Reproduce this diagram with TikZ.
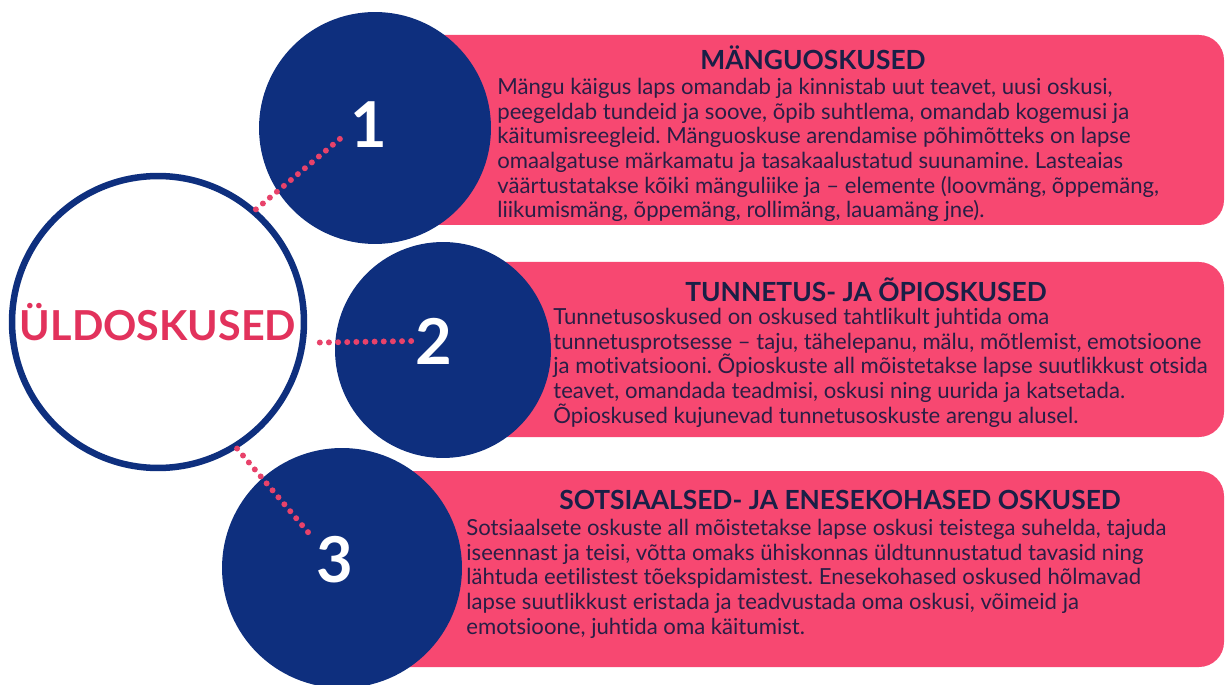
\documentclass[tikz,border=0pt]{standalone}
\usepackage{fontspec}
\setmainfont{Lato}[Ligatures={NoCommon}]
\frenchspacing
\definecolor{navy}{HTML}{0E2F7E}
\definecolor{rose}{HTML}{F74871}
\definecolor{dotrose}{HTML}{E8426A}
\definecolor{crimson}{HTML}{E2325C}
\definecolor{ink}{HTML}{2A1E45}
\definecolor{inkdark}{HTML}{1A1F46}

\begin{document}
\begin{tikzpicture}[x=0.02cm,y=-0.02cm,
		band/.style={fill=rose,rounded corners=0.5cm},
		ball/.style={circle,fill=navy,inner sep=0pt},
		ring/.style={circle,draw=navy,line width=0.13cm,fill=white,minimum size=5.84cm,inner sep=0pt,text=crimson,font=\bfseries\fontsize{23.5}{28}\selectfont},
		numeral/.style={text=white,font=\bfseries\fontsize{36}{40}\selectfont,inner sep=2pt},
		heading/.style={text=inkdark,font=\bfseries\fontsize{15}{18}\selectfont},
		body/.style={anchor=north west,align=left,inner sep=0pt,text=ink,font=\fontsize{12.6}{14}\selectfont},
		dotline/.style={dotrose,line width=3.4pt,line cap=round,dash pattern=on 0pt off 5.2pt}]
		\useasboundingbox (0,0) rectangle (1226,685);
		\fill[band] (380,35) rectangle (1224,225);
		\fill[band] (445,262) rectangle (1224,437);
		\fill[band] (345,471) rectangle (1224,667);
		\node[ball,minimum size=4.64cm] (c1) at (375,128) {};
		\node[ball,minimum size=4.32cm] (c2) at (443,350) {};
		\node[ball,minimum size=4.8cm] (c3) at (342,568) {};
		\node[ring] (uld) at (158,322) {ÜLDOSKUSED};
		\node[numeral] (num1) at (369,125) {1};
		\node[numeral] (num2) at (434,341) {2};
		\node[numeral] (num3) at (335,560) {3};
		\draw[dotline] (uld.49) -- (num1.200);
		\draw[dotline,shorten <=8pt] (uld.-8) -- (num2.west);
		\draw[dotline] (uld.-58) -- (num3.135);
		\node[heading] (t1) at (813,58) {MÄNGUOSKUSED};
		\node[body] (b1) at (497,78) {Mängu käigus laps omandab ja kinnistab uut teavet, uusi oskusi,\\
			peegeldab tundeid ja soove, õpib suhtlema, omandab kogemusi ja\\
			käitumisreegleid. Mänguoskuse arendamise põhimõtteks on lapse\\
			omaalgatuse märkamatu ja tasakaalustatud suunamine. Lasteaias\\
			väärtustatakse kõiki mänguliike ja – elemente (loovmäng, õppemäng,\\
			liikumismäng, õppemäng, rollimäng, lauamäng jne).};
		\node[heading] (t2) at (866,290) {TUNNETUS- JA ÕPIOSKUSED};
		\node[body] (b2) at (553,308) {Tunnetusoskused on oskused tahtlikult juhtida oma\\
			tunnetusprotsesse – taju, tähelepanu, mälu, mõtlemist, emotsioone\\
			ja motivatsiooni. Õpioskuste all mõistetakse lapse suutlikkust otsida\\
			teavet, omandada teadmisi, oskusi ning uurida ja katsetada.\\
			Õpioskused kujunevad tunnetusoskuste arengu alusel.};
		\node[heading] (t3) at (840,500) {SOTSIAALSED- JA ENESEKOHASED OSKUSED};
		\node[body] (b3) at (466,519) {Sotsiaalsete oskuste all mõistetakse lapse oskusi teistega suhelda, tajuda\\
			iseennast ja teisi, võtta omaks ühiskonnas üldtunnustatud tavasid ning\\
			lähtuda eetilistest tõekspidamistest. Enesekohased oskused hõlmavad\\
			lapse suutlikkust eristada ja teadvustada oma oskusi, võimeid ja\\
			emotsioone, juhtida oma käitumist.};
	\end{tikzpicture}
\end{document}
